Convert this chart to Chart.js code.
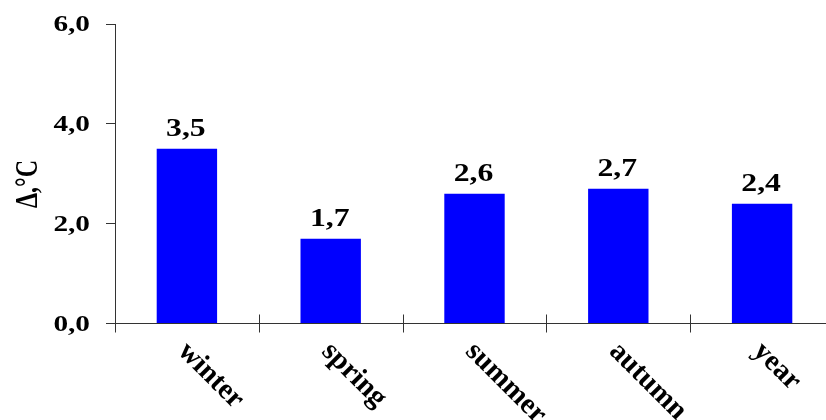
<!DOCTYPE html>
<html>
<head>
<meta charset="utf-8">
<script src="https://cdn.jsdelivr.net/npm/chart.js@4/dist/chart.umd.min.js"></script>
<style>
  html, body { margin: 0; padding: 0; background: #ffffff; overflow: hidden; }
  #wrap { width: 826px; height: 420px; overflow: hidden; position: relative; }
  canvas { display: block; }
</style>
</head>
<body>
<div id="wrap"><canvas id="chart" width="840" height="420"></canvas></div>
<script>
// Seasonal temperature change, °C
const categories = ['winter', 'spring', 'summer', 'autumn', 'year'];
const deltaT = [3.5, 1.7, 2.6, 2.7, 2.4];
const yTicks = [0, 2, 4, 6];
const yTitle = 'Δ,°C';

const SERIF = '"Liberation Serif", "Times New Roman", serif';
const AXIS_COLOR = '#333333';
const WIDE = 1.22; // horizontal widening of the bold serif text

function fmt(v) {
  return v.toFixed(1).replace('.', ',');
}

// draw text widened horizontally around its anchor point
function wideText(ctx, text, x, y, align, baseline) {
  ctx.save();
  ctx.translate(x, y);
  ctx.scale(WIDE, 1);
  ctx.textAlign = align;
  ctx.textBaseline = baseline;
  ctx.fillText(text, 0, 0);
  ctx.restore();
}

// Tick labels, value labels, rotated category labels, y title and category tick marks
const decorations = {
  id: 'decorations',
  afterDatasetsDraw(chart) {
    const ctx = chart.ctx;
    const meta = chart.getDatasetMeta(0);
    const xs = chart.scales.x;
    const ys = chart.scales.y;
    const area = chart.chartArea;

    ctx.save();
    ctx.fillStyle = '#000000';

    // y tick labels
    ctx.font = 'bold 24px ' + SERIF;
    yTicks.forEach(v => {
      wideText(ctx, fmt(v), area.left - 25, ys.getPixelForValue(v) + 1, 'right', 'middle');
    });

    // value labels
    ctx.font = 'bold 26px ' + SERIF;
    meta.data.forEach((bar, i) => {
      wideText(ctx, fmt(deltaT[i]), bar.x - 1, bar.y - 13, 'center', 'alphabetic');
    });

    // category tick marks on the boundaries between categories
    ctx.strokeStyle = AXIS_COLOR;
    ctx.lineWidth = 1;
    for (let i = 0; i <= categories.length; i++) {
      let bx;
      if (i === 0) bx = area.left;
      else if (i === categories.length) bx = area.right;
      else bx = (xs.getPixelForValue(i - 1) + xs.getPixelForValue(i)) / 2;
      bx = Math.round(bx) + 0.5;
      ctx.beginPath();
      ctx.moveTo(bx, area.bottom - (i === 0 ? 0 : 9));
      ctx.lineTo(bx, area.bottom + 9);
      ctx.stroke();
    }

    // rotated category labels
    ctx.font = 'bold 29px ' + SERIF;
    ctx.textAlign = 'left';
    ctx.textBaseline = 'alphabetic';
    categories.forEach((label, i) => {
      const cx = xs.getPixelForValue(i);
      ctx.save();
      ctx.translate(cx - 10, area.bottom + 29);
      ctx.rotate(Math.PI / 4);
      ctx.fillText(label, 0, 0);
      ctx.restore();
    });

    // y axis title
    ctx.font = 'bold 24px ' + SERIF;
    ctx.save();
    ctx.translate(37, 184);
    ctx.scale(1.35, 1);
    ctx.rotate(-Math.PI / 2);
    ctx.textAlign = 'center';
    ctx.textBaseline = 'alphabetic';
    ctx.fillText(yTitle, 0, 0);
    ctx.restore();

    ctx.restore();
  }
};

new Chart(document.getElementById('chart'), {
  type: 'bar',
  data: {
    labels: categories,
    datasets: [{
      data: deltaT,
      backgroundColor: '#0000ff',
      borderWidth: 0,
      categoryPercentage: 1.0,
      barPercentage: 0.42
    }]
  },
  options: {
    responsive: false,
    animation: false,
    events: [],
    layout: { padding: { left: 0, right: 6, top: 24, bottom: 0 } },
    plugins: {
      legend: { display: false },
      tooltip: { enabled: false },
      title: { display: false }
    },
    scales: {
      x: {
        type: 'category',
        offset: true,
        grid: { display: false },
        border: { display: true, color: AXIS_COLOR, width: 1 },
        ticks: { display: false },
        afterFit(scale) { scale.height = 96.5; }
      },
      y: {
        min: 0,
        max: 6,
        afterBuildTicks(scale) {
          scale.ticks = yTicks.map(v => ({ value: v }));
        },
        grid: {
          display: true,
          drawOnChartArea: false,
          drawTicks: true,
          tickLength: 9,
          color: AXIS_COLOR,
          lineWidth: 1
        },
        border: { display: true, color: AXIS_COLOR, width: 1 },
        ticks: { display: false },
        afterFit(scale) { scale.width = 115; }
      }
    }
  },
  plugins: [decorations]
});
</script>
</body>
</html>
